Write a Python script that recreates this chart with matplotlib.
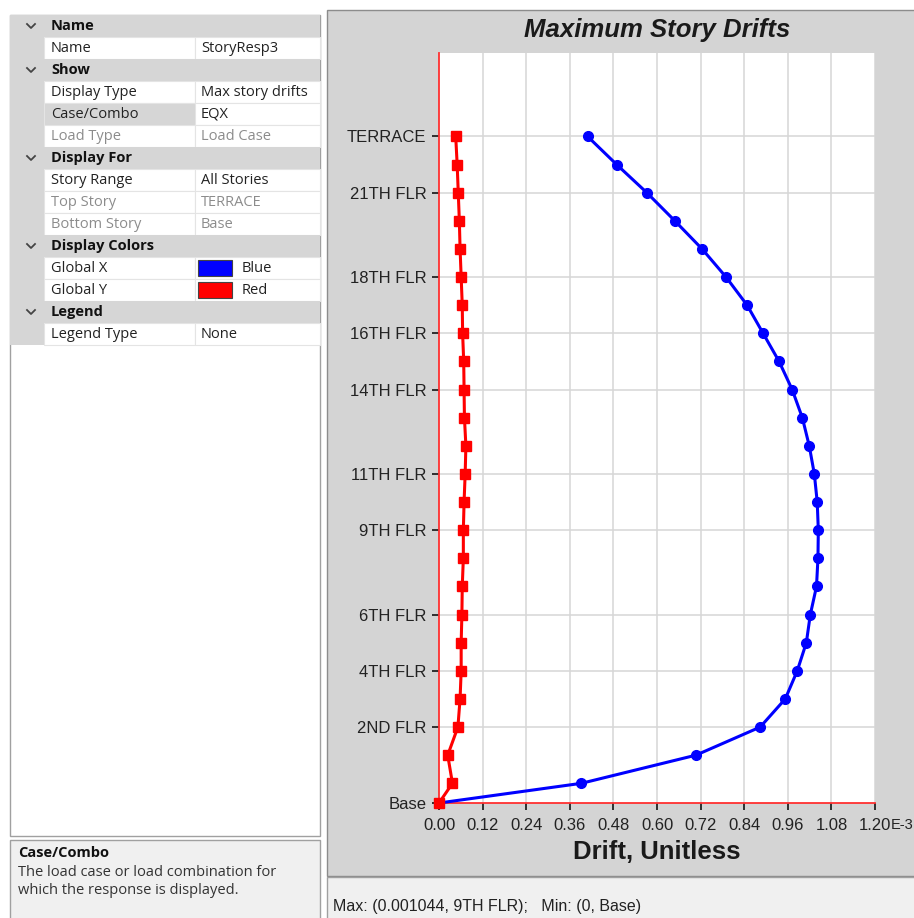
import matplotlib.pyplot as plt
from matplotlib.patches import Rectangle

# story data (bottom -> top), drifts in E-3
stories = ["Base", "PLINTH", "1ST FLR", "2ND FLR", "3RD FLR", "4TH FLR", "5TH FLR",
           "6TH FLR", "7TH FLR", "8TH FLR", "9TH FLR", "10TH FLR", "11TH FLR",
           "12TH FLR", "13TH FLR", "14TH FLR", "15TH FLR", "16TH FLR", "17TH FLR",
           "18TH FLR", "19TH FLR", "20TH FLR", "21TH FLR", "22TH FLR", "TERRACE"]
elevation = [0.0, 2.1, 5.1, 8.1, 11.1, 14.1, 17.1, 20.1, 23.1, 26.1, 29.1, 32.1,
             35.1, 38.1, 41.1, 44.1, 47.1, 50.1, 53.1, 56.1, 59.1, 62.1, 65.1,
             68.1, 71.1]
drift_x = [0.0, 0.392, 0.707, 0.884, 0.953, 0.986, 1.011, 1.022, 1.039, 1.043,
           1.044, 1.041, 1.033, 1.019, 1.000, 0.972, 0.936, 0.892, 0.848, 0.790,
           0.724, 0.649, 0.572, 0.489, 0.409]
drift_y = [0.0, 0.037, 0.024, 0.052, 0.058, 0.061, 0.061, 0.063, 0.064, 0.067,
           0.067, 0.069, 0.072, 0.074, 0.070, 0.069, 0.068, 0.065, 0.064, 0.061,
           0.058, 0.056, 0.053, 0.050, 0.046]
shown_stories = ["Base", "2ND FLR", "4TH FLR", "6TH FLR", "9TH FLR", "11TH FLR",
                 "14TH FLR", "16TH FLR", "18TH FLR", "21TH FLR", "TERRACE"]
x_ticks = [0.00, 0.12, 0.24, 0.36, 0.48, 0.60, 0.72, 0.84, 0.96, 1.08, 1.20]

# property grid rows: (kind, name, value)
grid_rows = [
    ("head", "Name", ""),
    ("item", "Name", "StoryResp3"),
    ("head", "Show", ""),
    ("item", "Display Type", "Max story drifts"),
    ("sel", "Case/Combo", "EQX"),
    ("off", "Load Type", "Load Case"),
    ("head", "Display For", ""),
    ("item", "Story Range", "All Stories"),
    ("off", "Top Story", "TERRACE"),
    ("off", "Bottom Story", "Base"),
    ("head", "Display Colors", ""),
    ("blue", "Global X", "Blue"),
    ("red", "Global Y", "Red"),
    ("head", "Legend", ""),
    ("item", "Legend Type", "None"),
]

W, H = 914, 918
UI = "Open Sans"
CH = "Liberation Sans"

fig = plt.figure(figsize=(W / 100, H / 100), dpi=100)
fig.patch.set_facecolor("white")
bg = fig.add_axes([0, 0, 1, 1])
bg.set_xlim(0, W)
bg.set_ylim(H, 0)
bg.axis("off")


def box(x0, y0, x1, y1, fc, ec="none", lw=1.0, z=1):
    bg.add_patch(Rectangle((x0, y0), x1 - x0, y1 - y0, facecolor=fc,
                           edgecolor=ec, linewidth=lw, zorder=z))


# left panel
box(10, 15, 320, 836, "white", "#a0a0a0")
row_h = 22
for i, (kind, name, value) in enumerate(grid_rows):
    y0 = 15 + i * row_h
    yc = y0 + row_h / 2
    if kind == "head":
        box(10, y0, 320, y0 + row_h, "#d6d6d6", z=2)
        bg.plot([27, 31, 35], [yc - 2, yc + 2, yc - 2], color="#444444", lw=1.3, zorder=3)
        bg.text(51, yc, name, fontsize=10.5, fontweight="bold", family=UI,
                color="#111111", va="center", zorder=3)
        continue
    box(10, y0, 44, y0 + row_h, "#d6d6d6", z=2)
    box(44, y0, 195, y0 + row_h, "#d6d6d6" if kind == "sel" else "white",
        "#e4e4e4", 0.8, z=2)
    box(195, y0, 320, y0 + row_h, "white", "#e4e4e4", 0.8, z=2)
    col = "#8c8c8c" if kind == "off" else "#222222"
    bg.text(51, yc, name, fontsize=10.5, family=UI, color=col, va="center", zorder=3)
    vx = 201
    if kind in ("blue", "red"):
        box(198, y0 + 3, 232, y0 + row_h - 3, "#0000ff" if kind == "blue" else "#ff0000",
            "#444444", 0.8, z=3)
        vx = 242
    bg.text(vx, yc, value, fontsize=10.5, family=UI, color=col, va="center", zorder=3)

# description box
box(10, 840, 320, 925, "#f0f0f0", "#a0a0a0")
bg.text(18, 853, "Case/Combo", fontsize=10.5, fontweight="bold", family=UI,
        color="#111111", va="center")
bg.text(18, 873, "The load case or load combination for", fontsize=10.5, family=UI,
        color="#333333", va="center")
bg.text(18, 890, "which the response is displayed.", fontsize=10.5, family=UI,
        color="#333333", va="center")

# chart panel + status bar
box(327, 10, 920, 876, "#d4d4d4", "#8c8c8c")
box(327, 877, 920, 925, "#f0f0f0", "#a0a0a0")
bg.text(333, 907, "Max: (0.001044, 9TH FLR);   Min: (0, Base)", fontsize=11.5,
        family=CH, color="#222222", va="center")

bg.text(657, 30, "Maximum Story Drifts", fontsize=18.5, fontweight="bold",
        fontstyle="italic", family=CH, color="#1a1a1a", ha="center", va="center")
bg.text(657, 852, "Drift, Unitless", fontsize=18.5, fontweight="bold", family=CH,
        color="#1a1a1a", ha="center", va="center")
bg.text(891, 825, "E-3", fontsize=10.5, family=CH, color="#222222", va="center")

# plot area
ax = fig.add_axes([439 / W, (H - 803) / H, (875 - 439) / W, (803 - 53) / H])
ax.set_facecolor("white")
ax.set_xlim(0, 1.2)
ax.set_ylim(0, 80)

shown_elev = [elevation[stories.index(s)] for s in shown_stories]
for xv in x_ticks[1:]:
    ax.axvline(xv, color="#d6d6d6", lw=1.1, zorder=0)
for yv in shown_elev[1:]:
    ax.axhline(yv, color="#d6d6d6", lw=1.1, zorder=0)

ax.plot(drift_x, elevation, color="#0000ff", lw=2.2, marker="o", markersize=7,
        zorder=3, clip_on=False)
ax.plot(drift_y, elevation, color="#ff0000", lw=2.2, marker="s", markersize=6.5,
        zorder=4, clip_on=False)

for side in ("top", "right"):
    ax.spines[side].set_visible(False)
for side in ("left", "bottom"):
    ax.spines[side].set_color("#ff3030")
    ax.spines[side].set_linewidth(1.3)

ax.set_xticks(x_ticks)
ax.set_xticklabels([f"{v:.2f}" for v in x_ticks])
ax.set_yticks(shown_elev)
ax.set_yticklabels(shown_stories)
ax.tick_params(axis="both", colors="#222222", length=5, width=1.3, labelsize=12)
ax.tick_params(axis="y", pad=4)
ax.tick_params(axis="x", pad=6)
for lab in ax.get_xticklabels() + ax.get_yticklabels():
    lab.set_family(CH)
    lab.set_color("#222222")

fig.savefig("out.png", dpi=100)
